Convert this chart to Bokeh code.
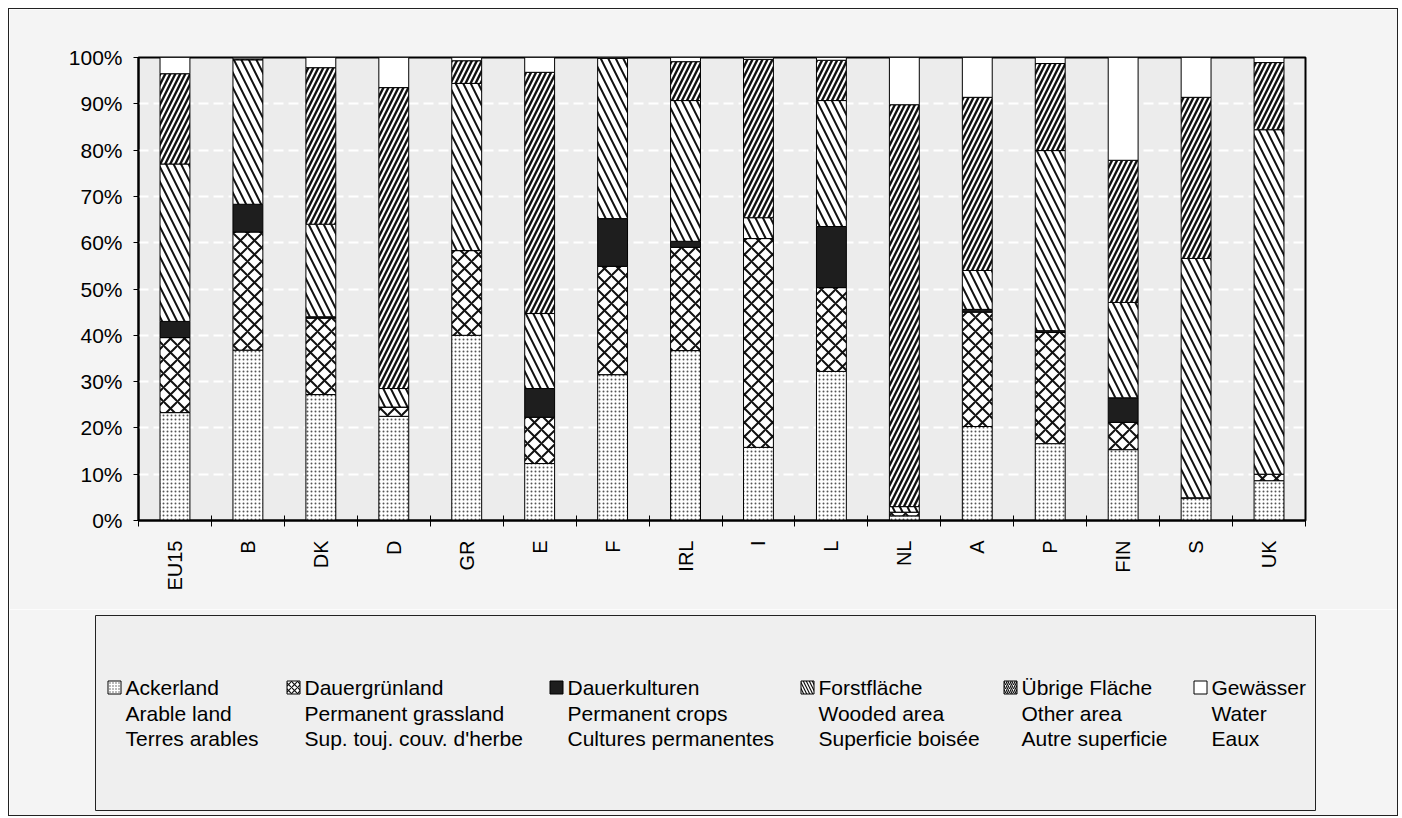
import math
from bokeh.plotting import figure
from bokeh.models import Range1d, FixedTicker, ColumnDataSource
from bokeh.layouts import column
from bokeh.embed import file_html
from bokeh.resources import INLINE
from bokeh.core.properties import value

countries = ["EU15", "B", "DK", "D", "GR", "E", "F", "IRL", "I", "L", "NL", "A", "P", "FIN", "S", "UK"]
arable    = [23.3, 36.8, 27.2, 22.5, 40.0, 12.3, 31.5, 36.7, 15.8, 32.2, 1.0, 20.3, 16.6, 15.3, 4.9, 8.6]
grassland = [16.2, 25.5, 16.5, 2.0, 18.3, 10.0, 23.4, 22.3, 45.1, 18.1, 0.8, 24.7, 24.0, 5.9, 0.0, 1.4]
crops     = [3.5, 6.0, 0.3, 0.0, 0.0, 6.2, 10.3, 1.3, 0.0, 13.2, 0.0, 0.6, 0.4, 5.3, 0.0, 0.0]
wooded    = [34.0, 31.2, 20.0, 4.0, 36.1, 16.2, 34.6, 30.4, 4.5, 27.2, 1.2, 8.4, 38.9, 20.6, 51.7, 74.4]
other     = [19.5, 0.2, 33.8, 65.0, 4.9, 52.1, 0.0, 8.4, 34.2, 8.7, 86.8, 37.4, 18.8, 30.7, 34.8, 14.5]
water     = [3.5, 0.3, 2.2, 6.5, 0.7, 3.2, 0.2, 0.9, 0.4, 0.6, 10.2, 8.6, 1.3, 22.2, 8.6, 1.1]
y_ticks = [0, 10, 20, 30, 40, 50, 60, 70, 80, 90, 100]

legend_de = ["Ackerland", "Dauergrünland", "Dauerkulturen", "Forstfläche", "Übrige Fläche", "Gewässer"]
legend_en = ["Arable land", "Permanent grassland", "Permanent crops", "Wooded area", "Other area", "Water"]
legend_fr = ["Terres arables", "Sup. touj. couv. d'herbe", "Cultures permanentes", "Superficie boisée", "Autre superficie", "Eaux"]

FONT = "Liberation Sans"
keys = ["arable", "grassland", "crops", "wooded", "other", "water"]
fills = ["white", "white", "#1e1e1e", "white", "white", "white"]
hatches = ["dot", "diagonal_cross", " ", "left_diagonal_line", "right_diagonal_line", " "]
hscale = [4, 14, 1, 15, 10, 1]
hweight = [1.2, 2.0, 1, 2.0, 2.4, 1]
hcolor = ["#555555", "#111111", "#111111", "#111111", "#111111", "#111111"]

xs = [i + 0.5 for i in range(len(countries))]
src = ColumnDataSource(dict(x=xs, arable=arable, grassland=grassland, crops=crops,
                            wooded=wooded, other=other, water=water))

p = figure(width=1388, height=600, output_backend="svg", toolbar_location=None,
           x_range=Range1d(0, len(countries)), y_range=Range1d(0, 100),
           min_border_left=129, min_border_right=92, min_border_top=48, min_border_bottom=89)
p.border_fill_color = "#f4f4f4"
p.background_fill_color = "#ececec"
p.outline_line_color = "black"
p.outline_line_width = 2

p.vbar_stack(keys, x="x", width=0.41, source=src,
             fill_color=fills, hatch_pattern=hatches, hatch_scale=hscale,
             hatch_weight=hweight, hatch_color=hcolor,
             line_color="black", line_width=1)

p.xgrid.grid_line_color = None
p.ygrid.grid_line_color = "white"
p.ygrid.grid_line_width = 2
p.ygrid.grid_line_dash = "10 5"
p.ygrid.ticker = FixedTicker(ticks=y_ticks)

p.yaxis.ticker = FixedTicker(ticks=y_ticks)
p.yaxis.major_label_overrides = {t: f"{t}%" for t in y_ticks}
p.yaxis.major_label_text_font = FONT
p.yaxis.major_label_text_font_size = "21px"
p.yaxis.major_label_text_color = "black"
p.yaxis.major_tick_in = 0
p.yaxis.major_tick_out = 5
p.yaxis.minor_tick_line_color = None
p.yaxis.axis_line_width = 2
p.yaxis.major_label_standoff = 11

p.xaxis.ticker = FixedTicker(ticks=xs, minor_ticks=list(range(len(countries) + 1)))
p.xaxis.major_label_overrides = {x: c for x, c in zip(xs, countries)}
p.xaxis.major_label_orientation = math.pi / 2
p.xaxis.major_label_text_font = FONT
p.xaxis.major_label_text_font_size = "20px"
p.xaxis.major_label_text_color = "black"
p.xaxis.major_tick_line_color = None
p.xaxis.minor_tick_in = 5
p.xaxis.minor_tick_out = 6
p.xaxis.minor_tick_line_color = "black"
p.xaxis.axis_line_width = 2
p.xaxis.major_label_standoff = 14

# legend panel
lg = figure(width=1388, height=206, output_backend="svg", toolbar_location=None,
            x_range=Range1d(0, 1220), y_range=Range1d(195, 0),
            min_border_left=86, min_border_right=82, min_border_top=6, min_border_bottom=5)
lg.border_fill_color = "#f4f4f4"
lg.background_fill_color = "#efefef"
lg.outline_line_color = "#222222"
lg.outline_line_width = 1
lg.axis.visible = False
lg.grid.grid_line_color = None

for fig in (p, lg):
    if "frame_align" in fig.properties():
        fig.frame_align = False

col_x = [30, 209, 472, 723, 926, 1116]
icon_scale = [3, 6, 1, 6, 4, 1]
for i in range(6):
    lg.rect(x=[col_x[i] - 11], y=[72], width=13, height=13,
            width_units="screen", height_units="screen",
            fill_color=fills[i], hatch_pattern=hatches[i],
            hatch_scale=icon_scale[i], hatch_weight=1.2, hatch_color=hcolor[i],
            line_color="black", line_width=1)
lines = dict(x=[], y=[], t=[])
for i in range(6):
    for j, lab in enumerate([legend_de[i], legend_en[i], legend_fr[i]]):
        lines["x"].append(col_x[i])
        lines["y"].append(72 + j * 25.5)
        lines["t"].append(lab)
lg.text(x="x", y="y", text="t", source=ColumnDataSource(lines),
        text_font=value(FONT), text_font_size="21px", text_color="black",
        text_baseline="middle", text_align="left")

layout = column(p, lg, spacing=0, margin=(8, 0, 0, 8), styles={"border": "1px solid #222"})
open("out.html", "w").write(file_html(layout, INLINE))
